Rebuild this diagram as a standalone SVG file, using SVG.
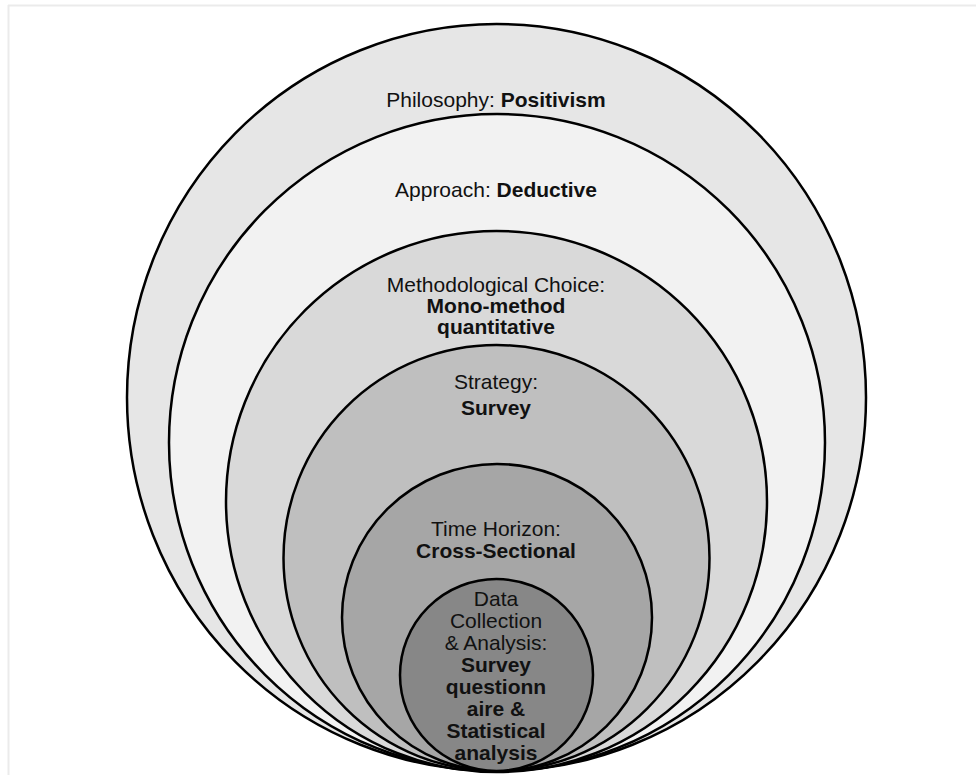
<svg xmlns="http://www.w3.org/2000/svg" width="976" height="775" viewBox="0 0 976 775">
<style>
.ring{stroke:#000;stroke-width:2.5}
text{font-family:"Liberation Sans",Arial,sans-serif;font-size:21px;fill:#111;text-anchor:middle}
.b{font-weight:bold}
</style>
<rect x="0" y="0" width="976" height="775" fill="#fff"/>
<line x1="8" y1="5.5" x2="976" y2="5.5" stroke="#ebebeb" stroke-width="2"/>
<line x1="8.5" y1="5" x2="8.5" y2="775" stroke="#ebebeb" stroke-width="2"/>
<g id="philosophy">
<ellipse class="ring" cx="496.5" cy="397.5" rx="369.5" ry="373.5" fill="#e6e6e6"/>
<text x="496" y="107">Philosophy: <tspan class="b">Positivism</tspan></text>
</g>
<g id="approach">
<ellipse class="ring" cx="497" cy="442.5" rx="328" ry="328.5" fill="#f2f2f2"/>
<text x="496" y="197">Approach: <tspan class="b">Deductive</tspan></text>
</g>
<g id="choice">
<circle class="ring" cx="496.5" cy="501.5" r="270.5" fill="#d9d9d9"/>
<text x="496" y="292">Methodological Choice:</text>
<text class="b" x="496" y="313">Mono-method</text>
<text class="b" x="496" y="334">quantitative</text>
</g>
<g id="strategy">
<circle class="ring" cx="496.5" cy="558" r="213" fill="#bfbfbf"/>
<text x="496" y="389">Strategy:</text>
<text class="b" x="496" y="415">Survey</text>
</g>
<g id="time">
<ellipse class="ring" cx="497" cy="617.5" rx="155" ry="153.5" fill="#a6a6a6"/>
<text x="496" y="536">Time Horizon:</text>
<text class="b" x="496" y="558">Cross-Sectional</text>
</g>
<g id="data">
<ellipse class="ring" cx="496.5" cy="675" rx="96.5" ry="96" fill="#878787"/>
<text x="496" y="606">Data</text>
<text x="496" y="628">Collection</text>
<text x="496" y="650">&amp; Analysis:</text>
<text class="b" x="496" y="672">Survey</text>
<text class="b" x="496" y="694">questionn</text>
<text class="b" x="496" y="716">aire &amp;</text>
<text class="b" x="496" y="738">Statistical</text>
<text class="b" x="496" y="760">analysis</text>
</g>
<g id="connectors"/>
</svg>
